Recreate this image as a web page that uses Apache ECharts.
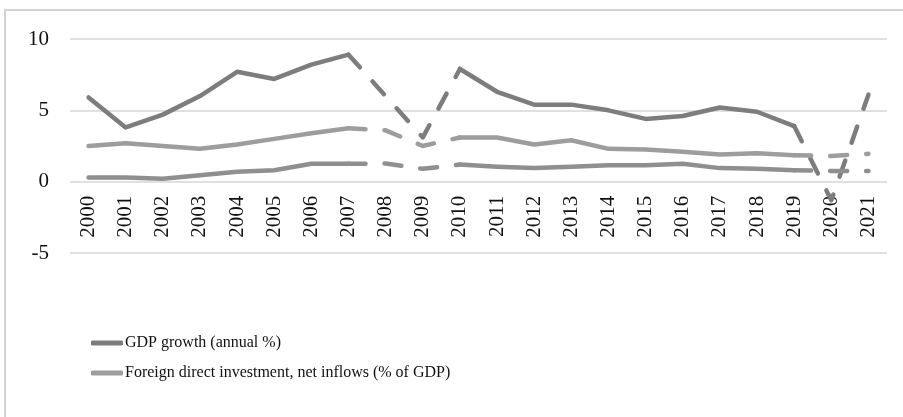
<!DOCTYPE html>
<html>
<head>
<meta charset="utf-8">
<title>GDP growth and FDI</title>
<script src="https://cdn.jsdelivr.net/npm/echarts@6/dist/echarts.min.js"></script>
<style>
html, body { margin: 0; padding: 0; background: #fff; overflow: hidden; }
#frame { position: absolute; left: 4px; top: 9px; width: 1000px; height: 1000px;
         border-left: 2px solid #d3d3d3; border-top: 2px solid #d3d3d3; }
#chart { position: absolute; left: 0; top: 0; width: 903px; height: 417px; }
</style>
</head>
<body>
<div id="frame"></div>
<div id="chart"></div>
<script>
// 年份（横轴）
var years = ['2000', '2001', '2002', '2003', '2004', '2005', '2006', '2007', '2008', '2009', '2010',
	'2011', '2012', '2013', '2014', '2015', '2016', '2017', '2018', '2019', '2020', '2021'];

// GDP 增长率（年度 %）
var gdpGrowth = [5.9, 3.8, 4.7, 6.0, 7.7, 7.2, 8.2, 8.9, 6.0, 3.1, 7.9,
	6.3, 5.4, 5.4, 5.0, 4.4, 4.6, 5.2, 4.9, 3.9, -1.3, 6.1];

// 外国直接投资净流入（占 GDP %）
var fdiInflows = [2.5, 2.7, 2.5, 2.3, 2.6, 3.0, 3.4, 3.75, 3.6, 2.5, 3.1,
	3.1, 2.6, 2.9, 2.3, 2.25, 2.1, 1.9, 2.0, 1.85, 1.8, 1.95];

// 第三条线（图例中没有）
var thirdSeries = [0.3, 0.3, 0.2, 0.45, 0.7, 0.8, 1.25, 1.25, 1.27, 0.9, 1.2,
	1.05, 0.95, 1.05, 1.15, 1.15, 1.25, 0.95, 0.9, 0.8, 0.75, 0.75];

// 用虚线连接的年份（危机年份）
var dashedYears = ['2008', '2009', '2020'];

// 纵轴刻度
var yMin = -5, yMax = 10, yStep = 5;

var gdpName = 'GDP growth (annual %)';
var fdiName = 'Foreign direct investment, net inflows (% of GDP)';

function isDashed(i) {
	return dashedYears.indexOf(years[i]) >= 0;
}

// 实线部分：去掉虚线年份
function solidPart(values) {
	var out = [];
	for (var i = 0; i < values.length; i++) {
		var keep = !isDashed(i) &&
			((i > 0 && !isDashed(i - 1)) || (i < values.length - 1 && !isDashed(i + 1)));
		out.push(keep ? values[i] : null);
	}
	return out;
}

// 虚线部分：虚线年份及其相邻年份
function dashedPart(values) {
	var out = [];
	for (var i = 0; i < values.length; i++) {
		var keep = isDashed(i) || (i > 0 && isDashed(i - 1)) ||
			(i < values.length - 1 && isDashed(i + 1));
		out.push(keep ? values[i] : null);
	}
	return out;
}

function makeSeries(name, values, color) {
	var base = {
		name: name,
		type: 'line',
		showSymbol: false,
		symbol: 'none',
		connectNulls: false,
		silent: true,
		z: 3
	};
	var solid = Object.assign({}, base, {
		data: solidPart(values),
		lineStyle: { color: color, width: 4.5, cap: 'round', join: 'round' },
		itemStyle: { color: color }
	});
	var dashed = Object.assign({}, base, {
		data: dashedPart(values),
		lineStyle: { color: color, width: 4.5, type: [17, 19], cap: 'round', join: 'round' },
		itemStyle: { color: color }
	});
	return [solid, dashed];
}

var myChart = echarts.init(document.getElementById('chart'), null, { renderer: 'canvas' });

var series = [].concat(
	makeSeries(gdpName, gdpGrowth, '#7d7d7d'),
	makeSeries(fdiName, fdiInflows, '#9d9d9d'),
	makeSeries('Series 3', thirdSeries, '#8f8f8f')
);

// 横轴放在 0 刻度处（Excel 风格）
var gridTop = 39, gridBottom = 164, chartHeight = 417;
var plotHeight = chartHeight - gridTop - gridBottom;
var zeroOffset = -plotHeight * (0 - yMin) / (yMax - yMin);

var option = {
	animation: false,
	backgroundColor: 'transparent',
	textStyle: { fontFamily: 'Liberation Serif' },
	grid: { left: 70, right: 16, top: gridTop, bottom: gridBottom, containLabel: false },
	legend: {
		data: [gdpName, fdiName],
		orient: 'vertical',
		left: 86,
		top: 328,
		icon: 'roundRect',
		itemWidth: 32,
		itemHeight: 5,
		itemGap: 10,
		textStyle: {
			fontFamily: 'Liberation Serif',
			fontSize: 16,
			lineHeight: 20,
			color: '#111',
			padding: [0, 0, 0, -3]
		}
	},
	xAxis: {
		type: 'category',
		data: years,
		boundaryGap: true,
		offset: zeroOffset,
		axisLine: { show: false, onZero: false },
		axisTick: { show: false },
		axisLabel: {
			interval: 0,
			rotate: 90,
			margin: 14,
			fontFamily: 'Liberation Serif',
			fontSize: 21,
			color: '#111'
		}
	},
	yAxis: {
		type: 'value',
		min: yMin,
		max: yMax,
		interval: yStep,
		axisLine: { show: false },
		axisTick: { show: false },
		splitLine: { lineStyle: { color: '#d6d6d6', width: 1.5 } },
		axisLabel: {
			margin: 21,
			fontFamily: 'Liberation Serif',
			fontSize: 21,
			color: '#111'
		}
	},
	series: series
};

myChart.setOption(option);
</script>
</body>
</html>
